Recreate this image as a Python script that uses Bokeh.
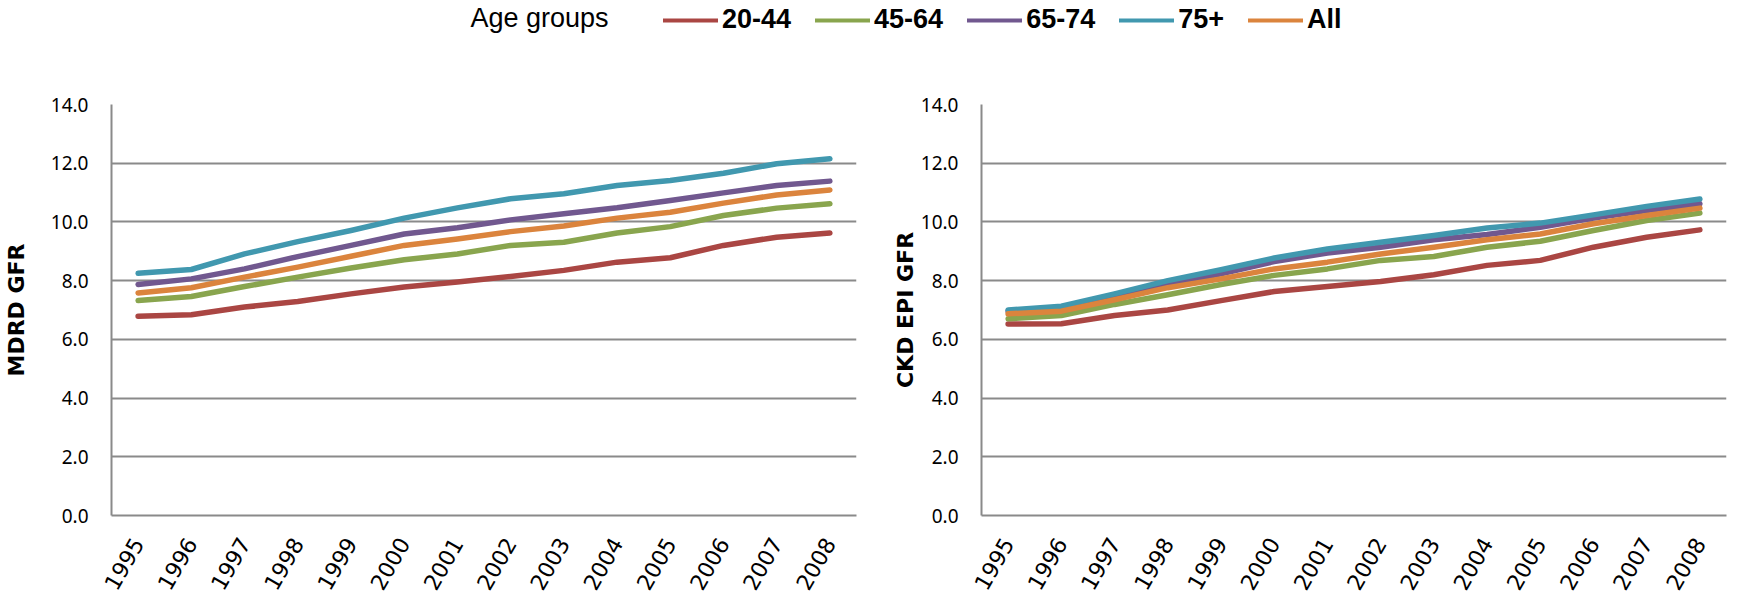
import math

from bokeh.embed import file_html
from bokeh.layouts import column, row
from bokeh.models import (FixedTicker, Label, Legend, LegendItem, LinearAxis,
                          NumeralTickFormatter, Range1d)
from bokeh.plotting import figure
from bokeh.resources import INLINE

# ---- data -------------------------------------------------------------
years = [1995, 1996, 1997, 1998, 1999, 2000, 2001, 2002, 2003, 2004, 2005, 2006, 2007, 2008]
groups = ["20-44", "45-64", "65-74", "75+", "All"]
colors = ["#AA4643", "#89A54E", "#71588F", "#4198AF", "#DB843D"]

mdrd_20_44 = [6.79, 6.84, 7.10, 7.29, 7.55, 7.78, 7.95, 8.14, 8.35, 8.63, 8.78, 9.20, 9.48, 9.62]
mdrd_45_64 = [7.32, 7.46, 7.80, 8.12, 8.43, 8.71, 8.91, 9.20, 9.31, 9.62, 9.84, 10.22, 10.47, 10.62]
mdrd_65_74 = [7.87, 8.06, 8.40, 8.82, 9.20, 9.59, 9.80, 10.07, 10.28, 10.48, 10.73, 10.99, 11.24, 11.39]
mdrd_75 = [8.25, 8.38, 8.91, 9.33, 9.71, 10.13, 10.48, 10.79, 10.96, 11.24, 11.41, 11.66, 11.98, 12.15]
mdrd_all = [7.58, 7.76, 8.12, 8.46, 8.83, 9.20, 9.42, 9.67, 9.86, 10.13, 10.33, 10.64, 10.92, 11.09]

ckd_20_44 = [6.52, 6.53, 6.81, 7.00, 7.32, 7.63, 7.80, 7.97, 8.20, 8.52, 8.69, 9.14, 9.48, 9.73]
ckd_45_64 = [6.70, 6.81, 7.19, 7.52, 7.87, 8.18, 8.40, 8.69, 8.82, 9.14, 9.34, 9.71, 10.05, 10.30]
ckd_65_74 = [6.96, 7.06, 7.46, 7.87, 8.23, 8.65, 8.94, 9.14, 9.39, 9.57, 9.82, 10.13, 10.39, 10.62]
ckd_75 = [7.00, 7.13, 7.55, 8.00, 8.37, 8.77, 9.08, 9.31, 9.54, 9.79, 9.96, 10.24, 10.53, 10.78]
ckd_all = [6.87, 6.96, 7.35, 7.76, 8.06, 8.40, 8.63, 8.91, 9.14, 9.39, 9.59, 9.94, 10.22, 10.47]

y_ticks = [0, 2, 4, 6, 8, 10, 12, 14]

GRID = "#8A8A8A"
TICK_FONT = "Noto Sans"
YEAR_FONT = "DejaVu Sans"
TITLE_FONT = "DejaVu Sans"


def panel(axis_title, series, width, border_left, border_right, title_standoff):
    p = figure(width=width, height=562, output_backend="svg", toolbar_location=None,
               x_range=Range1d(years[0] - 0.5, years[-1] + 0.5), y_range=Range1d(0, 14),
               x_axis_location=None, y_axis_location=None,
               min_border_left=border_left, min_border_right=border_right,
               min_border_top=64, min_border_bottom=87)
    p.outline_line_color = None
    p.background_fill_color = "white"
    p.border_fill_color = "white"

    ya = LinearAxis(axis_label=axis_title, ticker=FixedTicker(ticks=y_ticks),
                    formatter=NumeralTickFormatter(format="0.0"))
    ya.axis_line_color = GRID
    ya.axis_line_width = 2
    ya.major_tick_line_color = None
    ya.minor_tick_line_color = None
    ya.major_label_standoff = 17
    ya.major_label_text_font = TICK_FONT
    ya.major_label_text_font_size = "19px"
    ya.major_label_text_color = "black"
    ya.axis_label_standoff = title_standoff
    ya.axis_label_text_font = TITLE_FONT
    ya.axis_label_text_font_style = "bold"
    ya.axis_label_text_font_size = "22px"
    ya.axis_label_text_color = "black"
    p.add_layout(ya, "left")

    xa = LinearAxis(ticker=FixedTicker(ticks=years),
                    major_label_overrides={yr: str(yr) for yr in years})
    xa.axis_line_color = GRID
    xa.axis_line_width = 2
    xa.major_tick_line_color = None
    xa.minor_tick_line_color = None
    xa.major_label_orientation = math.pi / 3
    xa.major_label_standoff = 18
    xa.major_label_text_font = YEAR_FONT
    xa.major_label_text_font_size = "22px"
    xa.major_label_text_color = "black"
    p.add_layout(xa, "below")

    p.xgrid.visible = False
    p.ygrid.ticker = FixedTicker(ticks=y_ticks)
    p.ygrid.grid_line_color = GRID
    p.ygrid.grid_line_width = 2

    for vals, col in zip(series, colors):
        p.line(years, vals, line_color=col, line_width=5.5,
               line_cap="round", line_join="round")
    return p


left = panel("MDRD GFR", [mdrd_20_44, mdrd_45_64, mdrd_65_74, mdrd_75, mdrd_all],
             width=870, border_left=111, border_right=14, title_standoff=19)
right = panel("CKD EPI GFR", [ckd_20_44, ckd_45_64, ckd_65_74, ckd_75, ckd_all],
              width=878, border_left=111, border_right=22, title_standoff=0)

# ---- shared legend strip ----------------------------------------------
key = figure(width=1748, height=40, output_backend="svg", toolbar_location=None,
             x_range=Range1d(0, 1), y_range=Range1d(0, 1),
             x_axis_location=None, y_axis_location=None, min_border=0)
key.outline_line_color = None
key.xgrid.visible = False
key.ygrid.visible = False

items = []
for name, col in zip(groups, colors):
    # single off-canvas point: only the legend swatch of this renderer is seen
    r = key.line(x=[-1], y=[-1], line_color=col, line_width=4, line_cap="round")
    items.append(LegendItem(label=name, renderers=[r]))

legend = Legend(items=items, orientation="horizontal", location=(663, 5),
                glyph_width=55, glyph_height=20, label_standoff=4, spacing=24,
                padding=0, margin=0, border_line_color=None, background_fill_alpha=0,
                label_text_font="Liberation Sans", label_text_font_style="bold",
                label_text_font_size="27px", label_text_color="black")
key.add_layout(legend)
key.add_layout(Label(x=470, y=23, x_units="screen", y_units="screen", text="Age groups",
                     text_baseline="middle", text_font="Liberation Sans",
                     text_font_size="27px", text_color="black"))

page = column(key, row(left, right))
open("out.html", "w").write(file_html(page, INLINE))
